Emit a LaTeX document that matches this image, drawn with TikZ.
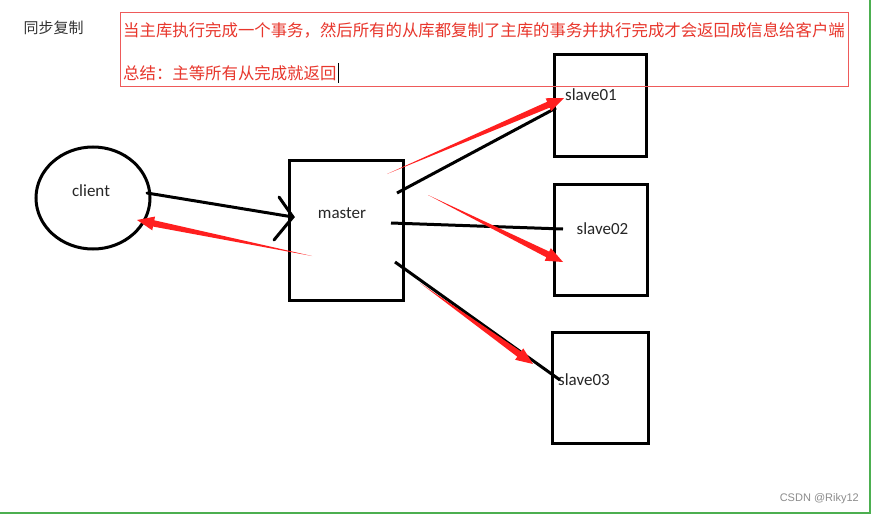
\documentclass[tikz,border=0pt]{standalone}
\usepackage{fontspec}
\usetikzlibrary{calc}
\newfontfamily\cjk{Noto Sans CJK SC}
\newfontfamily\lat{Carlito}
\newfontfamily\wm{Liberation Sans}
\definecolor{txtred}{HTML}{E8362C}
\definecolor{boxred}{HTML}{EE5A5A}
\definecolor{arrred}{HTML}{FF1F1F}
\definecolor{grn}{HTML}{4CAF50}
\tikzset{
  blk/.style={line width=3pt, draw=black},
  boxnode/.style={draw=black, line width=3pt, inner sep=0pt, fill=none},
  lbl/.style={font=\lat\fontsize{17}{19}\selectfont, text=black!85, inner sep=0pt},
}
\newcommand\taperarrow[2]{%
  \fill[arrred] (#1)
    -- ($(#2)!17pt!(#1)!3.2pt!90:(#2)$)
    -- ($(#2)!17pt!(#1)!7pt!90:(#2)$)
    -- (#2)
    -- ($(#2)!17pt!(#1)!7pt!-90:(#2)$)
    -- ($(#2)!17pt!(#1)!3.2pt!-90:(#2)$)
    -- cycle;}
\begin{document}
\begin{tikzpicture}[x=1pt,y=-1pt]
\useasboundingbox (0,0) rectangle (874,516);
\fill[white] (0,0) rectangle (874,516);
% green frame
\draw[grn, line width=2pt] (0,512.5) -- (870,512.5) -- (870,0);
% title
\node[font=\cjk\fontsize{15}{17}\selectfont, text=black!80, inner sep=0pt] (title) at (53.5,28) {同步复制};
% red note box
\node[draw=boxred, line width=1pt, minimum width=728pt, minimum height=74pt, inner sep=0pt] (note) at (484,50) {};
\node[anchor=west, font=\cjk\fontsize{16.4}{18}\selectfont, text=txtred, inner sep=0pt] (l1) at (123,30) {当主库执行完成一个事务，然后所有的从库都复制了主库的事务并执行完成才会返回成信息给客户端};
\node[anchor=west, font=\cjk\fontsize{16.4}{18}\selectfont, text=txtred, inner sep=0pt] (l2) at (123,73) {总结：主等所有从完成就返回};
\draw[black, line width=0.8pt] (l2.east) ++(2,-10) coordinate (cur1) -- ++(0,20) coordinate (cur2);
% client
\draw[line width=3pt] (93,198) ellipse [x radius=57, y radius=51];
\coordinate (client) at (93,198);
\node[lbl] (clienttxt) at (91,191) {client};
% master
\node[boxnode, minimum width=114pt, minimum height=140pt] (master) at (346,230) {};
\node[lbl] (mastertxt) at (342,213) {master};
% slaves
\node[boxnode, minimum width=92pt, minimum height=101pt] (s1) at (600,105.5) {};
\node[boxnode, minimum width=93pt, minimum height=111pt] (s2) at (600.5,239.5) {};
\node[boxnode, minimum width=96pt, minimum height=111pt] (s3) at (600,387.5) {};
% red box bottom edge passes over slave01
\draw[boxred, line width=1pt] (380,87) -- (848,87);
\node[lbl] (s1txt) at (591,95) {slave01};
\node[lbl] (s2txt) at (602.5,229) {slave02};
\node[lbl] (s3txt) at (584,380) {slave03};
% client -> master (black)
\coordinate (ca) at (147,193);
\coordinate (cb) at (293,217);
\coordinate (ha) at (279,197);
\coordinate (hb) at (274,240);
\draw[blk, line cap=round] (ca) -- (cb);
\draw[blk, line cap=round] (ha) -- (cb) -- (hb);
% master -> slaves (black)
\coordinate (m1) at (397,193); \coordinate (e1) at (556,108);
\coordinate (m2) at (391,223); \coordinate (e2) at (563,229);
\coordinate (m3) at (395,262); \coordinate (e3) at (560,380);
\draw[blk] (m1) -- (e1);
\draw[blk] (m2) -- (e2);
\draw[blk] (m3) -- (e3);
% red tapered arrows
\coordinate (r1t) at (387,174); \coordinate (r1h) at (564,98);
\coordinate (r2t) at (428,195); \coordinate (r2h) at (563,262);
\coordinate (r3t) at (420,283); \coordinate (r3h) at (533,364);
\coordinate (r0t) at (312,256); \coordinate (r0h) at (137,220);
\taperarrow{r1t}{r1h}
\taperarrow{r2t}{r2h}
\taperarrow{r3t}{r3h}
\taperarrow{r0t}{r0h}
% watermark
\node[anchor=east, font=\wm\fontsize{11}{12}\selectfont, text=black!45, inner sep=0pt] (wmk) at (859,499) {CSDN @Riky12};
\end{tikzpicture}
\end{document}
